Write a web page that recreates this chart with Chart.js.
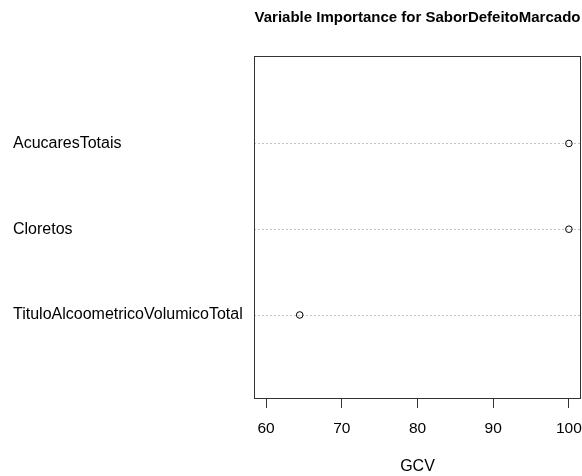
<!DOCTYPE html>
<html>
<head>
<meta charset="utf-8">
<script src="https://cdn.jsdelivr.net/npm/chart.js@4/dist/chart.umd.min.js"></script>
<style>
  html, body { margin: 0; padding: 0; background: #fff; }
  #wrap { width: 582px; height: 476px; }
</style>
</head>
<body>
<div id="wrap"><canvas id="c" width="582" height="476"></canvas></div>
<script>
const categories = ['AcucaresTotais', 'Cloretos', 'TituloAlcoometricoVolumicoTotal'];
const gcv = [100, 100, 64.44];
const xTicks = [60, 70, 80, 90, 100];
const titleText = 'Variable Importance for SaborDefeitoMarcado';
const xLabel = 'GCV';

const points = categories.map((c, i) => ({ x: gcv[i], y: i + 1 }));

const boxPlugin = {
  id: 'boxPlugin',
  beforeDatasetsDraw(chart) {
    const { ctx, chartArea: a, scales } = chart;
    ctx.save();
    ctx.strokeStyle = '#c4c4c4';
    ctx.lineWidth = 1;
    ctx.setLineDash([2, 2]);
    categories.forEach((c, i) => {
      const y = Math.round(scales.y.getPixelForValue(i + 1)) + 0.5;
      ctx.beginPath();
      ctx.moveTo(a.left, y);
      ctx.lineTo(a.right, y);
      ctx.stroke();
    });
    ctx.setLineDash([]);
    ctx.strokeStyle = '#333';
    ctx.strokeRect(Math.round(a.left) + 0.5, Math.round(a.top) + 0.5,
                   Math.round(a.right - a.left) - 1, Math.round(a.bottom - a.top) - 1);
    ctx.restore();
  }
};

new Chart(document.getElementById('c'), {
  type: 'scatter',
  data: {
    datasets: [{
      data: points,
      pointStyle: 'circle',
      pointRadius: 3.3,
      pointBorderWidth: 1,
      pointBorderColor: '#000',
      pointBackgroundColor: 'rgba(255,255,255,0)',
      pointHoverRadius: 3.3
    }]
  },
  options: {
    responsive: false,
    animation: false,
    events: [],
    layout: { autoPadding: false, padding: { left: 13, right: 1, top: 0, bottom: 0 } },
    plugins: {
      legend: { display: false },
      tooltip: { enabled: false },
      title: {
        display: true,
        text: titleText,
        fullSize: false,
        color: '#000',
        font: { family: 'Liberation Sans, Arial, sans-serif', size: 15, weight: 'bold', lineHeight: 1.2 },
        padding: { top: 9, bottom: 29 }
      }
    },
    scales: {
      x: {
        type: 'linear',
        min: 58.4,
        max: 101.6,
        afterBuildTicks(scale) { scale.ticks = xTicks.map(v => ({ value: v })); },
        afterFit(scale) { scale.height = 77; scale.paddingLeft = 0; scale.paddingRight = 0; },
        grid: { display: true, drawOnChartArea: false, drawTicks: true, tickLength: 9, color: '#333', lineWidth: 1 },
        border: { display: false },
        ticks: {
          color: '#000',
          padding: 11,
          maxRotation: 0,
          autoSkip: false,
          font: { family: 'Liberation Sans, Arial, sans-serif', size: 15.5 },
          callback: v => String(v)
        },
        title: {
          display: true,
          text: xLabel,
          color: '#000',
          font: { family: 'Liberation Sans, Arial, sans-serif', size: 16, lineHeight: 1.2 },
          padding: { top: 0, bottom: 0 }
        }
      },
      y: {
        type: 'linear',
        reverse: true,
        min: -0.02,
        max: 3.98,
        afterBuildTicks(scale) { scale.ticks = categories.map((c, i) => ({ value: i + 1 })); },
        afterFit(scale) { scale.width = 241; scale.paddingTop = 0; scale.paddingBottom = 0; },
        grid: { display: false, drawTicks: false },
        border: { display: false },
        ticks: {
          color: '#000',
          crossAlign: 'far',
          autoSkip: false,
          font: { family: 'Liberation Sans, Arial, sans-serif', size: 16 },
          callback: v => categories[v - 1] || ''
        }
      }
    }
  },
  plugins: [boxPlugin]
});
</script>
</body>
</html>
